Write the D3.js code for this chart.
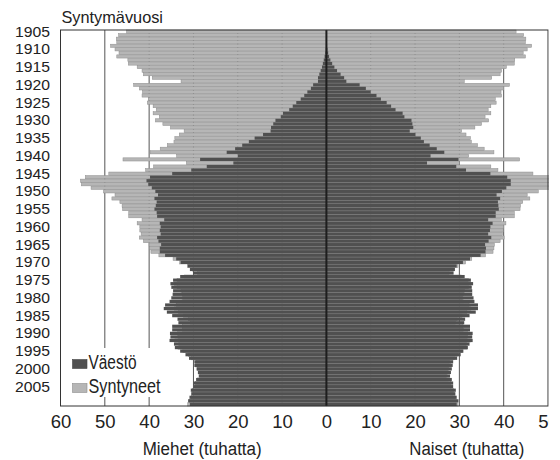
<!DOCTYPE html>
<html><head><meta charset="utf-8">
<script src="https://cdn.jsdelivr.net/npm/d3@7"></script>
<style>
body{margin:0;background:#fff}
svg{display:block}
</style>
</head><body>
<svg id="chart" width="560" height="460"></svg>
<script>
const years = [1905,1906,1907,1908,1909,1910,1911,1912,1913,1914,1915,1916,1917,1918,1919,1920,1921,1922,1923,1924,1925,1926,1927,1928,1929,1930,1931,1932,1933,1934,1935,1936,1937,1938,1939,1940,1941,1942,1943,1944,1945,1946,1947,1948,1949,1950,1951,1952,1953,1954,1955,1956,1957,1958,1959,1960,1961,1962,1963,1964,1965,1966,1967,1968,1969,1970,1971,1972,1973,1974,1975,1976,1977,1978,1979,1980,1981,1982,1983,1984,1985,1986,1987,1988,1989,1990,1991,1992,1993,1994,1995,1996,1997,1998,1999,2000,2001,2002,2003,2004,2005,2006,2007,2008,2009,2010];

// Syntyneet (births), thousands
const menBirths = [45.1,46.9,47.4,47.3,48.7,47.7,46.8,47.3,44.8,44.7,
  42.7,41.6,41.3,39.3,32.8,43.5,42.2,41.5,41.6,40.2,
  40.4,39.1,38.4,39.1,37.7,38.6,36.9,35.2,32.1,33.2,
  34.2,34.4,35.9,37.5,39.8,33.8,45.9,31.6,39.0,40.8,
  49.1,54.4,55.5,55.3,53.1,50.3,47.7,48.4,46.6,46.1,
  46.0,44.6,44.6,41.6,42.7,42.1,42.1,41.8,42.2,41.3,
  40.0,39.9,39.6,37.8,34.6,33.1,31.3,30.2,29.1,32.0,
  33.7,34.3,33.7,32.8,32.5,32.4,32.6,33.9,34.3,33.4,
  32.2,31.1,30.7,32.5,32.5,33.6,33.5,34.2,33.3,33.5,
  32.4,31.2,30.4,29.3,29.5,29.1,28.8,28.5,29.1,29.6,
  29.6,30.2,30.1,30.5,31.0,31.3];
const womenBirths = [42.8,44.5,45.0,44.9,46.3,45.3,44.4,44.9,42.5,42.4,
  40.6,39.5,39.2,37.3,31.1,41.3,40.0,39.4,39.5,38.1,
  38.3,37.1,36.5,37.1,35.8,36.6,35.0,33.5,30.5,31.5,
  32.5,32.7,34.1,35.6,37.8,32.1,43.6,30.0,37.1,38.7,
  46.6,51.7,52.7,52.5,50.4,47.8,45.3,45.9,44.3,43.8,
  43.7,42.4,42.4,39.5,40.5,40.0,39.9,39.7,40.1,39.2,
  37.9,37.8,37.6,35.9,32.8,31.4,29.7,28.7,27.7,30.4,
  32.0,32.6,32.0,31.2,30.9,30.7,30.9,32.2,32.6,31.7,
  30.6,29.5,29.1,30.8,30.9,31.9,31.8,32.5,31.6,31.8,
  30.7,29.6,28.9,27.8,28.0,27.6,27.4,27.1,27.6,28.1,
  28.1,28.7,28.6,29.0,29.4,29.7];

// Väestö (population), thousands
const menPop = [0.0,0.0,0.0,0.05,0.1,0.15,0.25,0.4,0.6,0.8,
  1.0,1.3,1.6,1.9,1.9,3.0,3.5,4.3,5.0,5.8,
  6.8,7.6,8.4,9.8,10.3,11.5,12.0,12.5,12.6,14.3,
  16.2,17.5,19.0,20.6,22.5,20.0,28.5,21.0,27.0,30.5,
  34.8,39.8,40.6,40.2,39.4,38.6,38.0,38.8,38.3,38.5,
  38.8,38.3,38.2,36.6,37.6,37.4,37.6,37.4,38.2,37.9,
  37.3,37.6,37.6,36.4,33.9,32.9,31.3,30.8,30.1,33.0,
  34.6,35.2,35.0,34.6,34.7,35.0,35.4,36.4,36.7,36.0,
  34.8,33.6,33.4,34.8,34.8,35.3,35.2,35.4,34.4,34.2,
  33.0,31.8,31.0,29.8,29.8,29.3,29.0,28.8,29.4,30.0,
  30.0,30.6,30.5,30.9,31.2,30.8];
const womenPop = [0.0,0.0,0.05,0.1,0.15,0.25,0.4,0.6,0.9,1.3,
  1.8,2.4,3.2,4.0,4.5,7.5,8.9,10.0,11.3,12.3,
  13.6,14.6,15.6,17.2,17.6,19.2,19.4,19.6,18.8,20.1,
  21.3,22.0,23.3,24.9,26.6,23.5,29.8,22.7,29.3,31.5,
  37.0,40.8,41.6,41.6,40.6,39.6,38.4,39.2,38.7,38.8,
  38.9,38.2,38.2,36.5,37.5,37.0,36.9,36.5,37.2,36.6,
  35.8,36.0,35.9,34.8,32.4,30.8,29.4,29.0,28.7,31.2,
  32.6,33.1,32.8,32.9,32.9,33.2,33.4,34.2,34.2,33.7,
  32.3,31.3,31.1,32.4,32.4,33.0,32.9,33.0,32.3,31.9,
  30.9,30.3,29.5,28.6,28.5,28.3,28.1,27.9,28.3,28.6,
  28.6,29.2,29.1,29.4,29.8,29.4];

const yearTicks = [1905,1910,1915,1920,1925,1930,1935,1940,1945,1950,1955,1960,1965,1970,1975,1980,1985,1990,1995,2000,2005];
const xTicks = [-60,-50,-40,-30,-20,-10,0,10,20,30,40,50];
const gridValues = [-50,-40,-30,-20,-10,10,20,30,40];
const legendLabels = ["Väestö","Syntyneet"];
const titleText = "Syntymävuosi";
const menTitle = "Miehet (tuhatta)";
const womenTitle = "Naiset (tuhatta)";

const FONT = '"Liberation Sans",Arial,sans-serif';
const TXT = "#222";
const DARK = "#505050", LIGHT = "#b6b6b6";

const svg = d3.select("#chart");
const defs = svg.append("defs");
defs.append("clipPath").attr("id","crop").append("rect")
  .attr("x",0).attr("y",0).attr("width",548.8).attr("height",460);
const root = svg.append("g").attr("clip-path","url(#crop)");

const x = d3.scaleLinear().domain([-60,50]).range([60.5,548]);
const y = d3.scaleBand().domain(years).range([30,406]).paddingInner(0.1);
const plotTop = 30, plotBottom = 406;

// gridlines
root.append("g").selectAll("line").data(gridValues).join("line")
  .attr("x1",d=>x(d)).attr("x2",d=>x(d)).attr("y1",plotTop).attr("y2",plotBottom)
  .attr("stroke","#555").attr("stroke-width",1);

const rows = years.map((yr,i)=>({yr, mb:menBirths[i], wb:womenBirths[i], mp:menPop[i], wp:womenPop[i]}));

// births bars
const gB = root.append("g");
gB.selectAll("rect.m").data(rows).join("rect").attr("class","m")
  .attr("x",d=>x(-d.mb)).attr("width",d=>x(0)-x(-d.mb))
  .attr("y",d=>y(d.yr)).attr("height",y.bandwidth())
  .attr("fill",LIGHT).attr("stroke","#8e8e8e").attr("stroke-width",0.5);
gB.selectAll("rect.w").data(rows).join("rect").attr("class","w")
  .attr("x",x(0)).attr("width",d=>x(d.wb)-x(0))
  .attr("y",d=>y(d.yr)).attr("height",y.bandwidth())
  .attr("fill",LIGHT).attr("stroke","#8e8e8e").attr("stroke-width",0.5);

// population bars
const gP = root.append("g");
gP.selectAll("rect.m").data(rows).join("rect").attr("class","m")
  .attr("x",d=>x(-d.mp)).attr("width",d=>x(0)-x(-d.mp))
  .attr("y",d=>y(d.yr)).attr("height",y.bandwidth())
  .attr("fill",DARK);
gP.selectAll("rect.w").data(rows).join("rect").attr("class","w")
  .attr("x",x(0)).attr("width",d=>x(d.wp)-x(0))
  .attr("y",d=>y(d.yr)).attr("height",y.bandwidth())
  .attr("fill",DARK);

// center line
root.append("line").attr("x1",x(0)).attr("x2",x(0)).attr("y1",plotTop).attr("y2",plotBottom)
  .attr("stroke","#1e1e1e").attr("stroke-width",2);

// frame
root.append("rect").attr("x",x(-60)).attr("y",plotTop).attr("width",x(50)-x(-60)).attr("height",plotBottom-plotTop)
  .attr("fill","none").attr("stroke","#333").attr("stroke-width",1);

// legend
const lg = root.append("g");
lg.append("rect").attr("x",67).attr("y",348).attr("width",99).attr("height",49).attr("fill","#fff");
const legColors = [DARK, LIGHT];
legendLabels.forEach((t,i)=>{
  const yy = 359.5 + i*24;
  lg.append("rect").attr("x",72.5).attr("y",yy).attr("width",14.5).attr("height",9)
    .attr("fill",legColors[i]).attr("stroke", i? "#8e8e8e":"#444").attr("stroke-width",0.6);
  lg.append("text").attr("x",88.5).attr("y",yy+9.3).text(t)
    .attr("font-family",FONT).attr("font-size",19.5).attr("fill",TXT)
    .attr("textLength", i ? 72 : 48).attr("lengthAdjust","spacingAndGlyphs");
});

// x axis
const ax = root.append("g").attr("transform",`translate(0,${plotBottom})`)
  .call(d3.axisBottom(x).tickValues(xTicks).tickFormat(d=>Math.abs(d)).tickSize(0).tickPadding(9));
ax.select(".domain").remove();
ax.selectAll("text").attr("font-family",FONT).attr("font-size",18.5).attr("fill",TXT);

// y axis (years)
const ay = root.append("g").attr("transform","translate(50,0)")
  .call(d3.axisLeft(y).tickValues(yearTicks).tickSize(0).tickPadding(0));
ay.select(".domain").remove();
ay.selectAll("text").attr("font-family",FONT).attr("font-size",15.5).attr("fill",TXT)
  .attr("textLength",35).attr("lengthAdjust","spacingAndGlyphs");

// titles
root.append("text").attr("x",61.5).attr("y",23.3).text(titleText)
  .attr("font-family",FONT).attr("font-size",16.5).attr("fill",TXT)
  .attr("textLength",101.5).attr("lengthAdjust","spacingAndGlyphs");
root.append("text").attr("x",142.7).attr("y",455).text(menTitle)
  .attr("font-family",FONT).attr("font-size",18).attr("fill",TXT)
  .attr("textLength",119).attr("lengthAdjust","spacingAndGlyphs");
root.append("text").attr("x",409.3).attr("y",455).text(womenTitle)
  .attr("font-family",FONT).attr("font-size",18).attr("fill",TXT)
  .attr("textLength",115).attr("lengthAdjust","spacingAndGlyphs");
</script>
</body></html>
